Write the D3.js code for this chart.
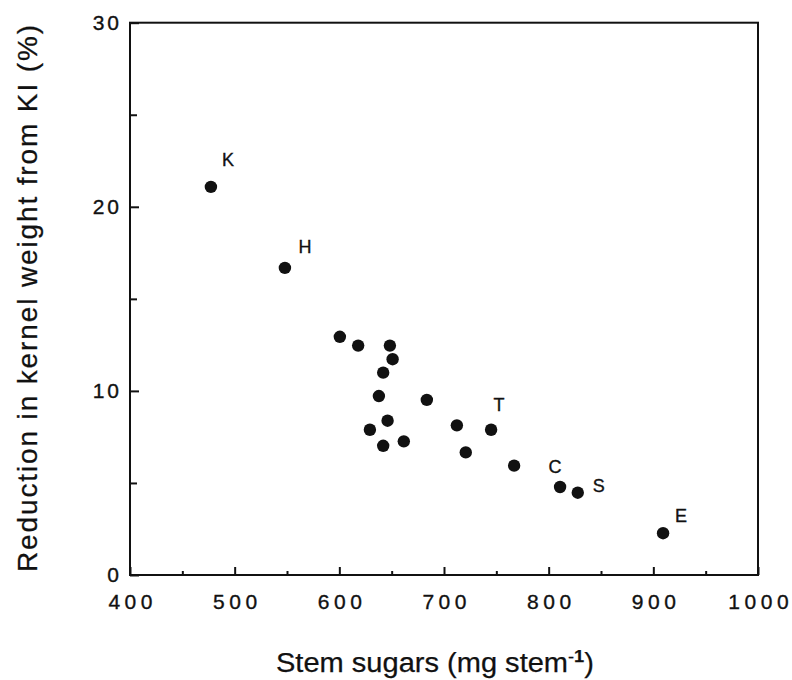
<!DOCTYPE html>
<html>
<head>
<meta charset="utf-8">
<script src="https://cdn.jsdelivr.net/npm/d3@7"></script>
<style>
  html, body { margin: 0; padding: 0; background: #fff; }
  svg { display: block; font-family: "Liberation Sans", Arial, Helvetica, sans-serif; }
</style>
</head>
<body>
<svg id="chart" width="792" height="680"></svg>
<script>
// ---- data ----
const stemSugars = [477.3, 548, 600.5, 618, 648.3, 650.9, 641.9, 637.8, 683.6, 646.1, 629.2, 641.9, 661.6, 712.3, 745, 720.8, 767, 810.9, 827.8, 909.3];
const reduction  = [21.08, 16.68, 12.94, 12.46, 12.46, 11.72, 10.99, 9.72, 9.51, 8.38, 7.89, 7.02, 7.26, 8.13, 7.89, 6.66, 5.94, 4.78, 4.47, 2.27];
const pointLabels = ["K", "H", "", "", "", "", "", "", "", "", "", "", "", "", "T", "", "", "C", "S", "E"];
const xMajorTicks = [400, 500, 600, 700, 800, 900, 1000];
const xMinorTicks = [450, 550, 650, 750, 850, 950];
const yMajorTicks = [0, 10, 20, 30];
const yMinorTicks = [5, 15, 25];
const xTitle = "Stem sugars (mg stem";
const xTitleSup = "-1";
const yTitle = "Reduction in kernel weight from KI (%)";

// label placement offsets (px, relative to point) – styling only
const labelOffsets = {K: [17, -27], H: [20, -21], T: [8, -25], C: [-5, -20], S: [21, -7], E: [18, -18]};

const svg = d3.select("#chart");
const ink = "#111";
const textStroke = 0.35;

const x = d3.scaleLinear().domain([400, 1000]).range([130, 758]);
const y = d3.scaleLinear().domain([0, 30]).range([575, 22.7]);

// frame
svg.append("rect")
  .attr("x", x.range()[0]).attr("y", y.range()[1])
  .attr("width", x.range()[1] - x.range()[0])
  .attr("height", y.range()[0] - y.range()[1])
  .attr("fill", "none").attr("stroke", ink).attr("stroke-width", 2);

// x axis major
const gx = svg.append("g").attr("transform", `translate(0,${y.range()[0]})`)
  .call(d3.axisBottom(x).tickValues(xMajorTicks).tickSize(-8).tickPadding(19).tickFormat(d3.format("d")));
gx.select(".domain").remove();
gx.selectAll(".tick line").attr("stroke", ink).attr("stroke-width", 2);
gx.selectAll(".tick text").attr("fill", ink).attr("stroke", ink).attr("stroke-width", textStroke)
  .attr("font-size", 21).attr("letter-spacing", "4.5px").attr("dx", 2.2)
  .attr("font-family", "'Liberation Sans', Arial, sans-serif");

const gxm = svg.append("g").attr("transform", `translate(0,${y.range()[0]})`)
  .call(d3.axisBottom(x).tickValues(xMinorTicks).tickSize(-4).tickFormat(""));
gxm.select(".domain").remove();
gxm.selectAll(".tick line").attr("stroke", ink).attr("stroke-width", 2);

// y axis major
const gy = svg.append("g").attr("transform", `translate(${x.range()[0]},0)`)
  .call(d3.axisLeft(y).tickValues(yMajorTicks).tickSize(-9).tickPadding(8).tickFormat(d3.format("d")));
gy.select(".domain").remove();
gy.selectAll(".tick line").attr("stroke", ink).attr("stroke-width", 2);
gy.selectAll(".tick text").attr("fill", ink).attr("stroke", ink).attr("stroke-width", textStroke)
  .attr("font-size", 21).attr("letter-spacing", "3px")
  .attr("font-family", "'Liberation Sans', Arial, sans-serif");

const gym = svg.append("g").attr("transform", `translate(${x.range()[0]},0)`)
  .call(d3.axisLeft(y).tickValues(yMinorTicks).tickSize(-7).tickFormat(""));
gym.select(".domain").remove();
gym.selectAll(".tick line").attr("stroke", ink).attr("stroke-width", 2);

// points
const pts = stemSugars.map((v, i) => ({x: v, y: reduction[i], label: pointLabels[i]}));
svg.append("g").selectAll("circle").data(pts).join("circle")
  .attr("cx", d => x(d.x)).attr("cy", d => y(d.y)).attr("r", 6.2).attr("fill", ink);

svg.append("g").selectAll("text").data(pts.filter(d => d.label)).join("text")
  .attr("x", d => x(d.x) + labelOffsets[d.label][0])
  .attr("y", d => y(d.y) + labelOffsets[d.label][1])
  .attr("dy", "0.36em")
  .attr("text-anchor", "middle")
  .attr("font-size", 18).attr("fill", ink).attr("stroke", ink).attr("stroke-width", textStroke)
  .text(d => d.label);

// x title
const xt = svg.append("text")
  .attr("x", 276).attr("y", 672)
  .attr("font-size", 27).attr("fill", ink).attr("stroke", ink).attr("stroke-width", 0.25)
  .attr("textLength", 318).attr("lengthAdjust", "spacingAndGlyphs");
xt.append("tspan").text(xTitle);
xt.append("tspan").attr("font-size", 17).attr("dy", -10).text(xTitleSup.slice(0, 1));
xt.append("tspan").attr("font-size", 17).attr("font-weight", "bold").text(xTitleSup.slice(1));
xt.append("tspan").attr("dy", 10).text(")");

// y title
svg.append("text")
  .attr("transform", "translate(37,572) rotate(-90)")
  .attr("x", 0).attr("y", 0)
  .attr("font-size", 28).attr("fill", ink).attr("stroke", ink).attr("stroke-width", 0.25)
  .attr("textLength", 547).attr("lengthAdjust", "spacing")
  .text(yTitle);
</script>
</body>
</html>
